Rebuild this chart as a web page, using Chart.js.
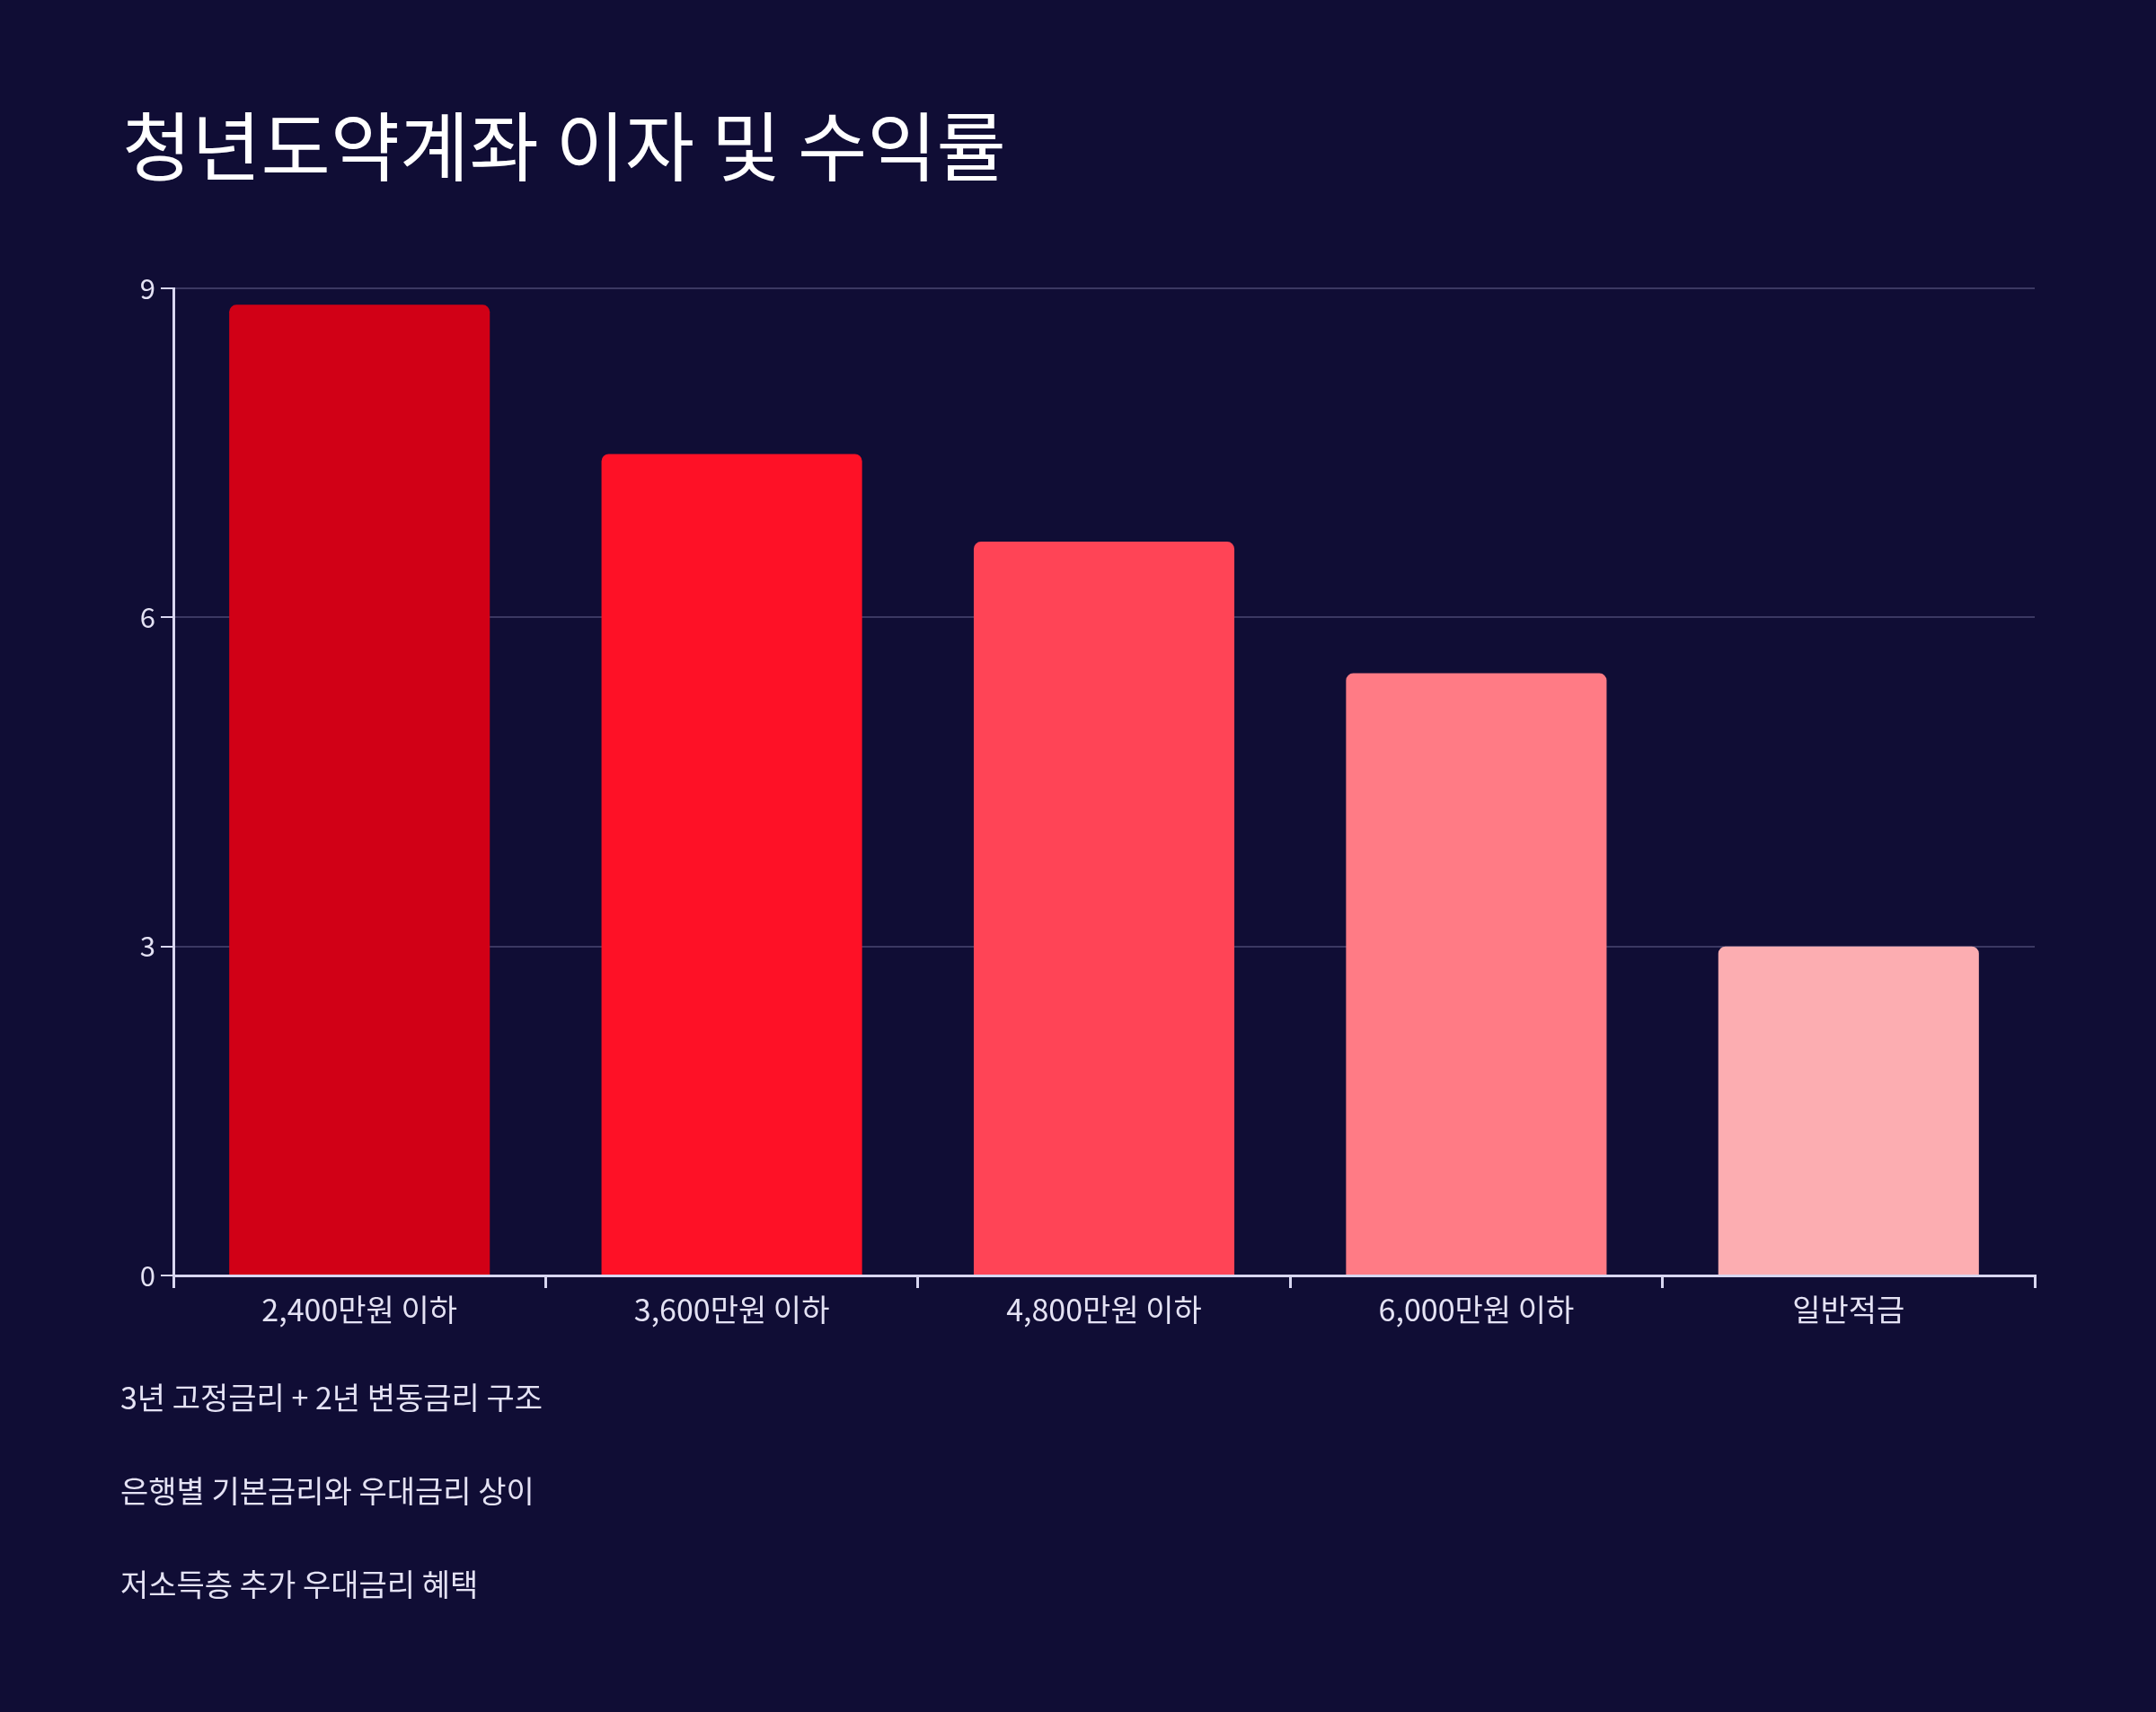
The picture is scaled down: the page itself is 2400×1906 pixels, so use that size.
<!DOCTYPE html>
<html><head><meta charset="utf-8">
<script src="https://cdn.jsdelivr.net/npm/chart.js@4"></script>
<style>
  body { margin:0; background:#100d35; width:2400px; height:1906px; overflow:hidden; font-family:"Noto Sans CJK KR","Noto Sans",sans-serif; }
  #title { position:absolute; left:136px; top:98px; color:#ffffff; font-size:84px; font-weight:400; }
  #wrap { position:absolute; left:0; top:0; width:2400px; height:1906px; }
  .note { position:absolute; left:134px; color:#e4e2f4; font-size:34px; }
</style></head>
<body>
<div id="wrap"><canvas id="chart"></canvas></div>
<div id="title">청년도약계좌 이자 및 수익률</div>
<div class="note" style="top:1530px">3년 고정금리 + 2년 변동금리 구조</div>
<div class="note" style="top:1634px">은행별 기본금리와 우대금리 상이</div>
<div class="note" style="top:1738px">저소득층 추가 우대금리 혜택</div>
<script>
const categories = ['2,400만원 이하', '3,600만원 이하', '4,800만원 이하', '6,000만원 이하', '일반적금']
const rates = [8.85, 7.49, 6.69, 5.49, 3.0]
const barColors = ['#d10016', '#fe1126', '#ff4456', '#ff7b85', '#fcadb1']
const yTicks = [0, 3, 6, 9]

document.addEventListener('DOMContentLoaded', () => {
  const axisColor = '#d8d6f0'
  new Chart(document.getElementById('chart'), {
    type: 'bar',
    data: {
      labels: categories,
      datasets: [{
        data: rates,
        backgroundColor: barColors,
        borderRadius: { topLeft: 8, topRight: 8 },
        borderSkipped: 'bottom',
        categoryPercentage: 1,
        barPercentage: 0.7
      }]
    },
    options: {
      responsive: true,
      maintainAspectRatio: false,
      animation: false,
      layout: { padding: { left: 100, top: 321, right: 135, bottom: 406 } },
      plugins: { legend: { display: false }, tooltip: { enabled: false } },
      scales: {
        x: {
          afterFit: s => { s.height = 80 },
          border: { color: axisColor, width: 3 },
          grid: { drawOnChartArea: false, tickColor: axisColor, tickLength: 14, lineWidth: 3 },
          ticks: { color: '#e4e2f4', font: { size: 34, family: 'Noto Sans CJK KR' }, padding: 4 }
        },
        y: {
          min: 0, max: 9,
          afterFit: s => { s.width = 93 },
          afterBuildTicks: s => { s.ticks = yTicks.map(v => ({ value: v })) },
          border: { color: axisColor, width: 3 },
          grid: { color: '#3b3862', lineWidth: 2, tickColor: axisColor, tickLength: 14 },
          ticks: { color: '#e4e2f4', font: { size: 31, family: 'Noto Sans CJK KR' }, padding: 6 }
        }
      }
    }
  })
})
</script>
</body></html>
